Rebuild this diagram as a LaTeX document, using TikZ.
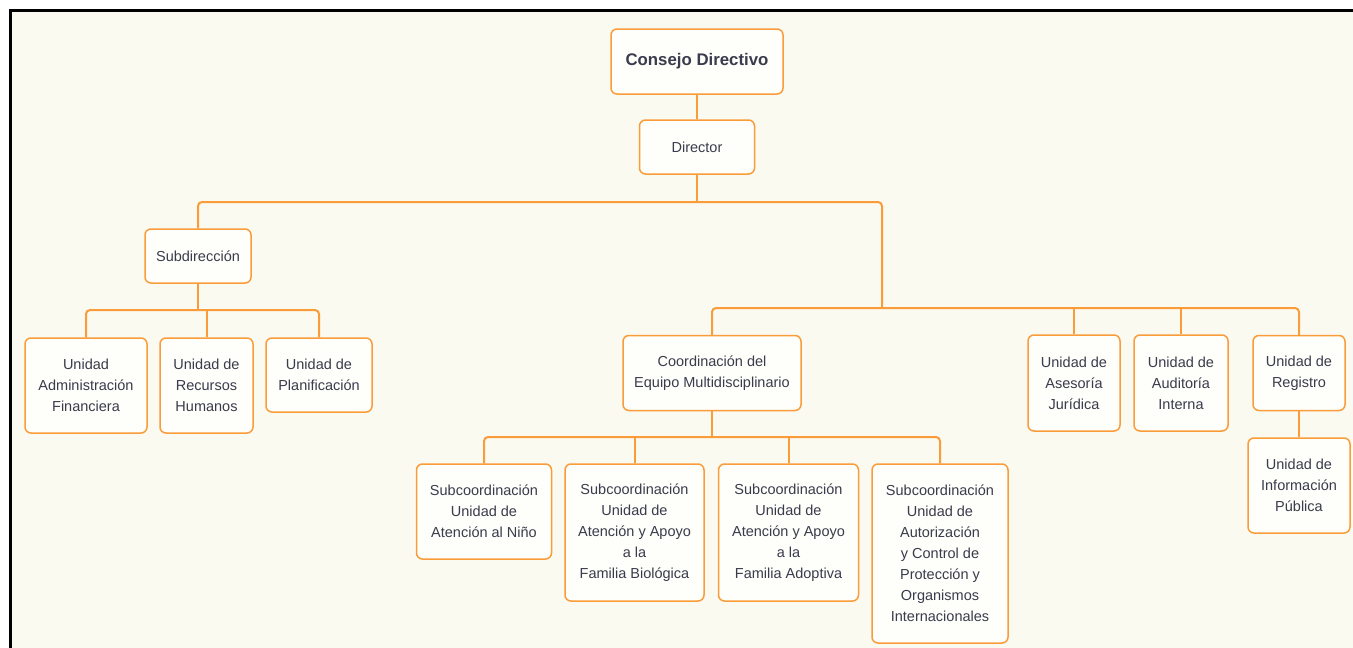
\documentclass[tikz,border=0pt]{standalone}
\usepackage{fontspec}
\setmainfont{Liberation Sans}
\usepackage{tikz}
\definecolor{paper}{HTML}{FAFAF0}
\definecolor{boxfill}{HTML}{FEFEFA}
\definecolor{edge}{HTML}{FB9C3A}
\definecolor{ink}{HTML}{3A3B4C}

\begin{document}
\begin{tikzpicture}[x=1pt, y=-1pt,
    unit/.style={draw=edge, fill=boxfill, line width=1.5pt, rounded corners=6pt,
      align=center, text=ink, inner sep=2pt, font=\fontsize{14.5}{21}\selectfont},
    link/.style={draw=edge, line width=2pt, rounded corners=4pt}]
  \useasboundingbox (0,0) rectangle (1353,648);
  \fill[white] (0,0) rectangle (1353,648);
  \fill[paper] (12,12) rectangle (1353,648);
  \draw[line width=3pt] (10.5,648) -- (10.5,10.5) -- (1353,10.5);

  \node[unit, minimum width=172, minimum height=65,
        font=\fontsize{16.8}{20}\selectfont\bfseries] (cd) at (697,61.5) {Consejo Directivo};
  \foreach \name/\x/\y/\w/\h/\txt in {
      dir/697/147/115/54/{Director},
      sub/198/256/106/54/{Subdirección},
      adm/86/385.5/122/95/{Unidad\\Administración\\Financiera},
      rrhh/206.5/385.5/93/95/{Unidad de\\Recursos\\Humanos},
      pla/319/375/106/74/{Unidad de\\Planificación},
      coo/712/373/178/75/{Coordinación del\\Equipo Multidisciplinario},
      ase/1074/383/92/96/{Unidad de\\Asesoría\\Jurídica},
      aud/1181/383/94/96/{Unidad de\\Auditoría\\Interna},
      reg/1299/373/92/75/{Unidad de\\Registro},
      inf/1299/485.5/102/95/{Unidad de\\Información\\Pública},
      nin/484/511.5/135/95/{Subcoordinación\\Unidad de\\Atención al Niño},
      bio/634.5/532.5/139/137/{Subcoordinación\\Unidad de\\Atención y Apoyo\\a la\\Familia Biológica},
      ado/788.5/532.5/140/137/{Subcoordinación\\Unidad de\\Atención y Apoyo\\a la\\Familia Adoptiva},
      aut/940/553.5/136/179/{Subcoordinación\\Unidad de\\Autorización\\y Control de\\Protección y\\Organismos\\Internacionales}} {
    \node[unit, minimum width=\w, minimum height=\h] (\name) at (\x,\y) {\txt};
  }

  % bus junctions
  \coordinate (j1) at (882,202);
  \coordinate (j2) at (882,308);
  \coordinate (j3) at (198,310);
  \coordinate (j4) at (712,437);

  \draw[link] (cd) -- (dir);
  \draw[link] (dir) -- (dir |- j1);
  \draw[link] (sub) |- (j1) -- (j2);
  \draw[link] (coo) |- (reg |- j2) -- (reg);
  \draw[link] (ase) -- (ase |- j2);
  \draw[link] (aud) -- (aud |- j2);
  \draw[link] (reg) -- (inf);
  \draw[link] (sub) -- (j3);
  \draw[link] (adm) |- (pla |- j3) -- (pla);
  \draw[link] (rrhh) -- (rrhh |- j3);
  \draw[link] (coo) -- (j4);
  \draw[link] (nin) |- (aut |- j4) -- (aut);
  \draw[link] (bio) -- (bio |- j4);
  \draw[link] (ado) -- (ado |- j4);
\end{tikzpicture}
\end{document}
